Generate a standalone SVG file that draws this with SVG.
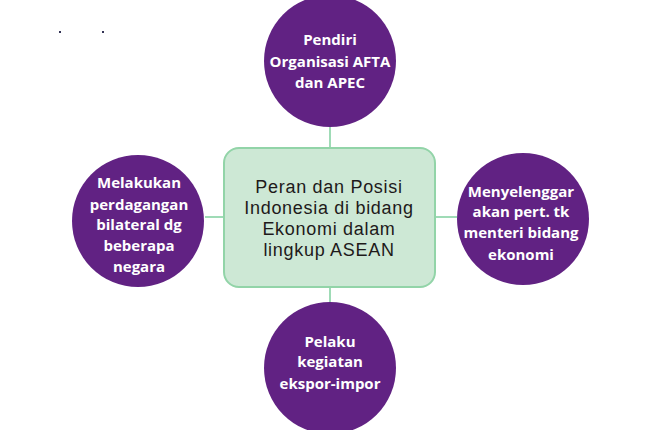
<svg xmlns="http://www.w3.org/2000/svg" width="651" height="430" viewBox="0 0 651 430">
<style>
.c{fill:#612283;}
.t{font-family:"Open Sans","Noto Sans",sans-serif;font-weight:700;font-size:15px;fill:#ffffff;text-anchor:middle;}
.m{font-family:"Liberation Sans",Arial,sans-serif;font-size:18px;letter-spacing:0.7px;fill:#1e1a1a;text-anchor:middle;}
.l{stroke:#7fcf9e;stroke-width:1.5;fill:none;}
</style>
<rect width="651" height="430" fill="#ffffff"/>
<rect x="59" y="31" width="2" height="2" fill="#333355"/>
<rect x="102" y="31" width="2" height="2" fill="#333355"/>
<g id="connectors">
<line class="l" x1="330" y1="126" x2="330" y2="148"/>
<line class="l" x1="330" y1="287" x2="330" y2="304"/>
<line class="l" x1="205" y1="217" x2="224" y2="217"/>
<line class="l" x1="435" y1="217" x2="457" y2="217"/>
</g>
<g id="center">
<rect x="224" y="148" width="211" height="139" rx="15" fill="#cde8d5" stroke="#92d4a8" stroke-width="2"/>
<text class="m"><tspan x="329" y="193">Peran dan Posisi</tspan><tspan x="329" y="214">Indonesia di bidang</tspan><tspan x="329" y="235">Ekonomi dalam</tspan><tspan x="329" y="256">lingkup ASEAN</tspan></text>
</g>
<g id="top">
<circle class="c" cx="330" cy="61" r="66"/>
<text class="t"><tspan x="330" y="45">Pendiri</tspan><tspan x="330" y="67">Organisasi AFTA</tspan><tspan x="330" y="88">dan APEC</tspan></text>
</g>
<g id="left">
<circle class="c" cx="138" cy="221" r="66"/>
<text class="t"><tspan x="139" y="188">Melakukan</tspan><tspan x="139" y="210">perdagangan</tspan><tspan x="139" y="230">bilateral dg</tspan><tspan x="139" y="251">beberapa</tspan><tspan x="139" y="272">negara</tspan></text>
</g>
<g id="right">
<circle class="c" cx="523" cy="219" r="66"/>
<text class="t"><tspan x="521" y="197">Menyelenggar</tspan><tspan x="521" y="217">akan pert. tk</tspan><tspan x="521" y="238">menteri bidang</tspan><tspan x="521" y="260">ekonomi</tspan></text>
</g>
<g id="bottom">
<circle class="c" cx="330" cy="368" r="66"/>
<text class="t"><tspan x="330" y="347">Pelaku</tspan><tspan x="330" y="367">kegiatan</tspan><tspan x="330" y="389">ekspor-impor</tspan></text>
</g>
</svg>
